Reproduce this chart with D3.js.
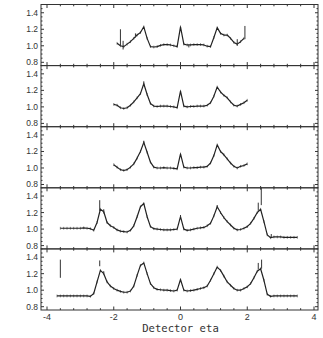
<!DOCTYPE html>
<html>
<head>
<meta charset="utf-8">
<style>
  body { margin: 0; background: #fff; }
  .frame { fill: none; stroke: #333; stroke-width: 1px; }
  .tick { stroke: #333; stroke-width: 1px; }
  .curve { fill: none; stroke: #222; stroke-width: 1.2px; stroke-linejoin: round; }
  .mark { stroke: #555; stroke-width: 0.7px; }
  .err { stroke: #333; stroke-width: 1px; }
  .ylab { font: 8.5px "Liberation Sans", Arial, sans-serif; fill: #333; text-anchor: end; }
  .xlab { font: 9px "Liberation Sans", Arial, sans-serif; fill: #333; text-anchor: middle; }
  .title { font: 10.6px "DejaVu Sans Mono", monospace; fill: #333; text-anchor: middle; }
</style>
</head>
<body>
<div id="chart"></div>
<script src="https://cdn.jsdelivr.net/npm/d3@7"></script>
<script>
  // eta grids
  var etaP1 = [-1.9,-1.8,-1.7,-1.6,-1.5,-1.4,-1.3,-1.2,-1.1,-1.0,-0.9,-0.8,-0.7,-0.6,-0.5,-0.4,-0.3,-0.2,-0.1,0.0,
               0.1,0.2,0.3,0.4,0.5,0.6,0.7,0.8,0.9,1.0,1.1,1.2,1.3,1.4,1.5,1.6,1.7,1.8,1.9];
  var etaMid = [-2.0,-1.9,-1.8,-1.7,-1.6,-1.5,-1.4,-1.3,-1.2,-1.1,-1.0,-0.9,-0.8,-0.7,-0.6,-0.5,-0.4,-0.3,-0.2,-0.1,0.0,
                0.1,0.2,0.3,0.4,0.5,0.6,0.7,0.8,0.9,1.0,1.1,1.2,1.3,1.4,1.5,1.6,1.7,1.8,1.9,2.0];
  var etaP4 = [-3.6,-3.5,-3.4,-3.3,-3.2,-3.1,-3.0,-2.9,-2.8,-2.7,-2.6,-2.5,-2.4,-2.3,-2.2,-2.1,
               -2.0,-1.9,-1.8,-1.7,-1.6,-1.5,-1.4,-1.3,-1.2,-1.1,-1.0,-0.9,-0.8,-0.7,-0.6,-0.5,-0.4,-0.3,-0.2,-0.1,0.0,
               0.1,0.2,0.3,0.4,0.5,0.6,0.7,0.8,0.9,1.0,1.1,1.2,1.3,1.4,1.5,1.6,1.7,1.8,1.9,2.0,
               2.1,2.2,2.3,2.4,2.5,2.6,2.7,2.8,2.9,3.0,3.1,3.2,3.3,3.4,3.5];
  var etaP5 = [-3.7,-3.6,-3.5,-3.4,-3.3,-3.2,-3.1,-3.0,-2.9,-2.8,-2.7,-2.6,-2.5,-2.4,-2.3,-2.2,-2.1,
               -2.0,-1.9,-1.8,-1.7,-1.6,-1.5,-1.4,-1.3,-1.2,-1.1,-1.0,-0.9,-0.8,-0.7,-0.6,-0.5,-0.4,-0.3,-0.2,-0.1,0.0,
               0.1,0.2,0.3,0.4,0.5,0.6,0.7,0.8,0.9,1.0,1.1,1.2,1.3,1.4,1.5,1.6,1.7,1.8,1.9,2.0,
               2.1,2.2,2.3,2.4,2.5,2.6,2.7,2.8,2.9,3.0,3.1,3.2,3.3,3.4,3.5];

  // ratio values, top panel to bottom panel
  var ratio1 = [1.03,1.00,0.99,1.02,1.05,1.09,1.13,1.16,1.23,1.09,0.99,0.985,0.99,1.005,1.015,1.015,1.01,1.0,0.99,1.23,
                1.02,1.01,1.01,1.015,1.015,1.015,1.01,0.995,0.99,1.10,1.22,1.15,1.13,1.13,1.09,1.04,1.02,1.05,1.09];
  var ratio2 = [1.03,1.02,0.99,0.98,0.99,1.02,1.06,1.11,1.16,1.28,1.15,1.04,1.01,1.005,1.01,1.01,1.01,1.005,1.0,0.99,1.19,
                1.01,1.0,1.005,1.005,1.01,1.01,1.01,1.02,1.05,1.13,1.24,1.18,1.14,1.11,1.06,1.02,1.01,1.03,1.05,1.08];
  var ratio3 = [1.04,1.01,0.98,0.97,0.98,1.01,1.05,1.12,1.20,1.31,1.19,1.07,1.01,1.0,1.0,1.005,1.0,1.0,0.995,0.99,1.17,
                1.01,1.0,1.0,1.005,1.005,1.01,1.01,1.02,1.06,1.15,1.28,1.20,1.16,1.11,1.06,1.02,1.0,1.02,1.03,1.05];
  var ratio4 = [1.01,1.01,1.01,1.01,1.01,1.01,1.01,1.015,1.01,1.005,0.985,1.08,1.24,1.21,1.08,1.04,
                1.02,0.99,0.975,0.97,0.965,0.985,1.04,1.15,1.27,1.31,1.15,1.03,1.005,1.0,0.995,0.99,0.99,0.99,0.995,1.0,1.15,
                1.0,0.985,0.99,1.0,1.01,1.015,1.02,1.04,1.07,1.16,1.27,1.20,1.14,1.09,1.05,1.01,0.99,0.995,1.01,1.03,
                1.07,1.13,1.20,1.24,1.09,0.93,0.895,0.905,0.905,0.905,0.90,0.90,0.90,0.90,0.90];
  var ratio5 = [0.93,0.93,0.93,0.93,0.93,0.93,0.93,0.93,0.93,0.93,0.925,0.96,1.10,1.24,1.20,1.10,1.05,
                1.02,1.0,0.985,0.975,0.975,0.99,1.05,1.18,1.30,1.33,1.20,1.08,1.03,1.01,1.005,1.0,1.0,0.995,0.99,1.0,1.13,
                1.0,0.99,0.995,1.0,1.01,1.02,1.03,1.05,1.12,1.20,1.28,1.24,1.17,1.10,1.06,1.02,1.0,1.0,1.02,1.04,
                1.08,1.15,1.23,1.26,1.12,0.95,0.925,0.93,0.93,0.93,0.93,0.93,0.93,0.93,0.93];

  // visible error bars: [eta, low, high]
  var err1 = [[-1.8,1.0,1.2],[-1.72,0.955,1.06],[-1.35,1.1,1.15],[0.25,0.98,1.01],[1.7,1.0,1.08],[1.93,1.08,1.24]];
  var err2 = [[-1.1,1.26,1.31]];
  var err3 = [[-1.1,1.29,1.33]];
  var err4 = [[-2.42,1.22,1.35],[-2.3,1.19,1.24],[0.0,1.14,1.17],[1.1,1.26,1.29],[2.33,1.22,1.32],[2.42,1.29,1.5],[2.72,0.9,0.94]];
  var err5 = [[-3.6,1.15,1.37],[-2.42,1.29,1.36],[-2.3,1.2,1.23],[2.33,1.25,1.33],[2.43,1.26,1.37]];

  var xTicksMajor = [-4,-2,0,2,4];
  var yTicks = [0.8,1.0,1.2,1.4];

  var width = 323, height = 338;
  var plotLeft = 41, plotRight = 318, plotTop = 4.5, panelH = 61.1;

  var svg = d3.select("#chart").append("svg")
      .attr("width", width)
      .attr("height", height);

  var x = d3.scaleLinear().domain([-4, 4]).range([47, 314]);
  var xMinor = d3.range(-4, 4.01, 0.4);
  var yMinor = d3.range(0.8, 1.501, 0.05);

  var panels = [
    {eta: etaP1, v: ratio1, err: err1},
    {eta: etaMid, v: ratio2, err: err2},
    {eta: etaMid, v: ratio3, err: err3},
    {eta: etaP4, v: ratio4, err: err4},
    {eta: etaP5, v: ratio5, err: err5}
  ];

  function drawPanel(p, i) {
    var y0 = plotTop + i * panelH, y1 = y0 + panelH;
    var y = d3.scaleLinear().domain([0.76, 1.5]).range([y1, y0]);
    var g = svg.append("g");

    // x ticks, inward at top and bottom
    xMinor.forEach(function(t) {
      var major = xTicksMajor.some(function(m) { return Math.abs(m - t) < 1e-6; });
      var len = major ? 3.5 : 1.8;
      g.append("line").attr("class", "tick")
        .attr("x1", x(t)).attr("x2", x(t)).attr("y1", y1).attr("y2", y1 - len);
      g.append("line").attr("class", "tick")
        .attr("x1", x(t)).attr("x2", x(t)).attr("y1", y0).attr("y2", y0 + len);
    });
    // y ticks, inward on both sides
    yMinor.forEach(function(t) {
      var major = yTicks.some(function(m) { return Math.abs(m - t) < 1e-6; });
      var len = major ? 3 : 1.5;
      g.append("line").attr("class", "tick")
        .attr("x1", plotLeft).attr("x2", plotLeft + len).attr("y1", y(t)).attr("y2", y(t));
      g.append("line").attr("class", "tick")
        .attr("x1", plotRight).attr("x2", plotRight - len).attr("y1", y(t)).attr("y2", y(t));
    });
    yTicks.forEach(function(t) {
      g.append("text").attr("class", "ylab")
        .attr("x", plotLeft - 3).attr("y", y(t) + 3)
        .text(d3.format(".1f")(t));
    });

    g.append("rect").attr("class", "frame")
      .attr("x", plotLeft).attr("y", y0).attr("width", plotRight - plotLeft).attr("height", panelH);

    var pts = p.eta.map(function(e, k) { return [e, p.v[k]]; });

    g.selectAll(".mark").data(pts).enter().append("line")
      .attr("class", "mark")
      .attr("x1", function(d) { return x(d[0]); }).attr("x2", function(d) { return x(d[0]); })
      .attr("y1", function(d) { return y(d[1]) - 1.4; }).attr("y2", function(d) { return y(d[1]) + 1.4; });

    g.append("path").attr("class", "curve")
      .attr("d", d3.line().x(function(d) { return x(d[0]); }).y(function(d) { return y(d[1]); })(pts));

    g.selectAll(".err").data(p.err).enter().append("line")
      .attr("class", "err")
      .attr("x1", function(d) { return x(d[0]); }).attr("x2", function(d) { return x(d[0]); })
      .attr("y1", function(d) { return y(d[1]); }).attr("y2", function(d) { return y(d[2]); });

    return y1;
  }

  var bottom;
  panels.forEach(function(p, i) { bottom = drawPanel(p, i); });

  xTicksMajor.forEach(function(t) {
    svg.append("text").attr("class", "xlab")
      .attr("x", x(t)).attr("y", bottom + 10)
      .text(t);
  });

  svg.append("text").attr("class", "title")
    .attr("x", x(0)).attr("y", bottom + 22)
    .text("Detector eta");
</script>
</body>
</html>
